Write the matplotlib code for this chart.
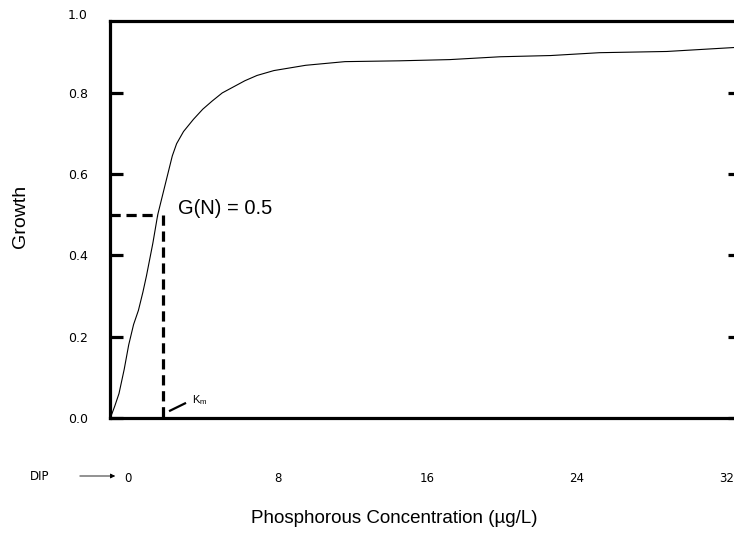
import matplotlib
matplotlib.use("Agg")
import matplotlib.pyplot as plt

plt.rcParams['font.family'] = ['Liberation Sans', 'DejaVu Sans']
plt.rcParams['mathtext.fontset'] = 'custom'
plt.rcParams['mathtext.rm'] = 'Liberation Sans'
plt.rcParams['mathtext.it'] = 'Liberation Sans:italic'

# ---- data ----
conc = [-0.96, -0.86, -0.7, -0.48, -0.2, 0.04, 0.3, 0.56, 0.8, 0.99, 1.33, 1.59,
        2.02, 2.37, 2.6, 2.97, 3.5, 4.0, 4.5, 5.04, 6.25, 6.9, 7.8, 9.5, 11.6, 14.5,
        17.2, 19.9, 22.6, 25.2, 28.8, 32.5]
growth = [0.0, 0.01, 0.03, 0.06, 0.12, 0.18, 0.23, 0.265, 0.31, 0.35, 0.43, 0.5,
          0.58, 0.645, 0.675, 0.705, 0.735, 0.76, 0.78, 0.80, 0.83, 0.843, 0.855,
          0.868, 0.877, 0.879, 0.882, 0.889, 0.892, 0.899, 0.902, 0.912]
half_sat_x = 1.87
half_growth = 0.5
x_ticks = [0, 8, 16, 24, 32]
x_tick_labels = ['0', '8', '16', '24', '32']
y_ticks = [0.0, 0.2, 0.4, 0.6, 0.8]
y_tick_labels = ['0.0', '0.2', '0.4', '0.6', '0.8']

W, H = 734, 536
fig = plt.figure(figsize=(W / 100, H / 100), dpi=100)
left_px, right_px, top_px, bot_px = 110, 735, 21, 418
ax = fig.add_axes([left_px / W, 1 - bot_px / H, (right_px - left_px) / W, (bot_px - top_px) / H])

xmin, xmax = -0.96, 32.45
ax.set_xlim(xmin, xmax)
ax.set_ylim(0, 0.977)

ax.plot(conc, growth, color='black', lw=0.8)

# dashed half-saturation guides
ax.plot([xmin, half_sat_x - 0.25], [half_growth, half_growth], color='black', lw=2.3,
        dashes=(3.2, 1.8), dash_capstyle='butt')
ax.plot([half_sat_x, half_sat_x], [half_growth, 0], color='black', lw=2.3,
        dashes=(3.2, 1.8), dash_capstyle='butt')

ax.text(2.67, 0.515, 'G(N) = 0.5', fontsize=14.5, ha='left', va='center')
ax.plot([2.25, 3.05], [0.018, 0.036], color='black', lw=1.6)
ax.text(3.4, 0.045, r'K$_\mathrm{m}$', fontsize=8, ha='left', va='center')

# spines
for s in ['left', 'top', 'bottom']:
    ax.spines[s].set_linewidth(2.3)
ax.spines['right'].set_visible(False)

tick_font = {'family': 'DejaVu Sans'}
ax.set_yticks(y_ticks)
ax.set_yticklabels(y_tick_labels, fontdict=tick_font)
ax.tick_params(axis='y', direction='in', length=9, width=2.3, pad=16, labelsize=9)
ax.set_xticks(x_ticks)
ax.set_xticklabels(x_tick_labels, fontdict=tick_font)
ax.tick_params(axis='x', length=0, pad=39, labelsize=8.5)

ax.annotate('1.0', xy=(0, 0.99), xycoords=('axes fraction', 'data'),
            xytext=(-16, 0), textcoords='offset points', ha='right', va='center',
            fontsize=9, family='DejaVu Sans', annotation_clip=False)

ax2 = ax.twinx()
ax2.set_ylim(ax.get_ylim())
ax2.set_yticks(y_ticks)
ax2.set_yticklabels([])
ax2.tick_params(axis='y', direction='in', length=5, width=2.3)
for s in ax2.spines.values():
    s.set_visible(False)

ax.set_ylabel('Growth', fontsize=14)
ax.yaxis.set_label_coords((29 - left_px) / (right_px - left_px), (bot_px - 216) / (bot_px - top_px))
ax.set_xlabel('Phosphorous Concentration (µg/L)', fontsize=13.5)
ax.xaxis.set_label_coords((394 - left_px) / (right_px - left_px), (bot_px - 510) / (bot_px - top_px))

# DIP arrow
fig.text(40 / W, 1 - 477 / H, 'DIP', fontsize=8.5, family='DejaVu Sans', ha='center', va='center')
ax.annotate('', xy=(118 / W, 1 - 476 / H), xytext=(77 / W, 1 - 476 / H),
            xycoords='figure fraction', textcoords='figure fraction',
            arrowprops=dict(arrowstyle='-|>', color='black', lw=0.6, mutation_scale=7),
            annotation_clip=False)

fig.savefig('out.png', dpi=100)
